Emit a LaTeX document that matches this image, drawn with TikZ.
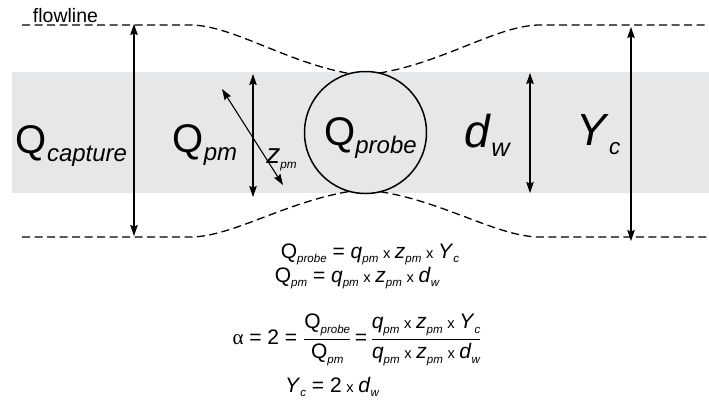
\documentclass[tikz,border=0pt]{standalone}
\usepackage{fontspec}
\setmainfont{Liberation Sans}
\newfontfamily\alphafont{Liberation Serif}
\usepackage{amsmath}
\usepackage{graphicx}
\usetikzlibrary{arrows.meta, positioning}

\definecolor{bandgray}{RGB}{230,231,232}
\newcommand{\sbs}[2][0.6]{\raisebox{-0.2em}{\scalebox{#1}{\itshape #2}}}
\newcommand{\eqsb}[1]{\raisebox{-0.22em}{\scalebox{0.55}{\itshape #1}}}
\newcommand{\tms}{\hspace{0.22em}\scalebox{0.7}{x}\hspace{0.22em}}
\newcommand{\fracbar}[2]{\genfrac{}{}{1.1pt}{0}{#1}{#2}}

\begin{document}
\begin{tikzpicture}[
    x=1pt, y=-1pt,
    every node/.style={inner sep=0pt, outer sep=0pt},
    flowline/.style={dash pattern=on 8pt off 4.5pt, line width=1.3pt},
    dimarrow/.style={{Stealth[length=11pt,width=7.5pt,inset=1.5pt]}-{Stealth[length=11pt,width=7.5pt,inset=1.5pt]}, line width=1.1pt},
    big/.style={font=\fontsize{40}{44}\selectfont, anchor=base},
    eq/.style={font=\fontsize{21}{25}\selectfont, anchor=base},
    probe/.style={circle, draw, line width=1.5pt, minimum size=122pt}
]
\useasboundingbox (0,0) rectangle (709,408);

% Band
\fill[bandgray] (12,72) rectangle (709,193);

% Probe
\node[probe] (probe) at (365.5,132.5) {};

% Flowlines
\coordinate (top w) at (22,25);
\coordinate (top e) at (709,25);
\coordinate (bot w) at (22,237);
\coordinate (bot e) at (709,237);
\draw[flowline] (top w) -- (190,25) .. controls (232,25) and (285,62) .. (probe.105);
\draw[flowline] (probe.77) .. controls (445,62) and (498,25) .. (540,25) -- (top e);
\draw[flowline] (bot w) -- (190,237) .. controls (232,237) and (285,202) .. (probe.255);
\draw[flowline] (probe.284) .. controls (445,202) and (498,237) .. (540,237) -- (bot e);
\node[font=\fontsize{19.5}{22}\selectfont, anchor=base] (flow) at (65.5,22) {flowline};

% Dimension arrows
\coordinate (cap n) at (134,24);
\coordinate (cap s) at (134,236);
\coordinate (pm n) at (253,74);
\coordinate (pm s) at (253,197);
\coordinate (z nw) at (222,89);
\coordinate (z se) at (283,185);
\coordinate (dw n) at (530,73);
\coordinate (dw s) at (530,193);
\coordinate (yc n) at (631,27);
\coordinate (yc s) at (631,241);
\draw[dimarrow] (cap n) -- (cap s);
\draw[dimarrow] (pm n) -- (pm s);
\draw[dimarrow] (z nw) -- (z se);
\draw[dimarrow] (dw n) -- (dw s);
\draw[dimarrow] (yc n) -- (yc s);

% Labels
\node[big] (capture) at (71.5,153) {Q\sbs{capture}};
\node[big] (qpm) at (205,152) {Q\sbs{pm}};
\node[big] (qprobe) at (370.5,145) {Q\sbs{probe}};
\node[big, font=\fontsize{46}{50}\selectfont] (dw) at (487,147) {\textit{d}\sbs[0.55]{w}};
\node[big, font=\fontsize{45}{50}\selectfont] (yc) at (598.5,145) {\textit{Y}\sbs[0.5]{c}};
\node[big, font=\fontsize{28}{32}\selectfont] (zpm) at (281.5,163) {\textit{z}\sbs[0.42]{pm}};

% Equations
\node[eq] (eq probe) at (370,258) {Q\eqsb{probe} = \textit{q}\eqsb{pm}\tms\textit{z}\eqsb{pm}\tms\textit{Y}\eqsb{c}};
\node[eq] (eq pm) at (357,282) {Q\eqsb{pm} = \textit{q}\eqsb{pm}\tms\textit{z}\eqsb{pm}\tms\textit{d}\eqsb{w}};
\node[eq, anchor=center] (eq alpha) at (357,340) {{\alphafont α} = 2 = $\fracbar{\text{Q\eqsb{probe}}}{\text{Q\eqsb{pm}}}$\,=\,$\fracbar{\text{\textit{q}\eqsb{pm}\tms\textit{z}\eqsb{pm}\tms\textit{Y}\eqsb{c}}}{\text{\textit{q}\eqsb{pm}\tms\textit{z}\eqsb{pm}\tms\textit{d}\eqsb{w}}}$};
\node[eq] (eq yc) at (332,392) {\textit{Y}\eqsb{c} = 2\tms\textit{d}\eqsb{w}};

\end{tikzpicture}
\end{document}
